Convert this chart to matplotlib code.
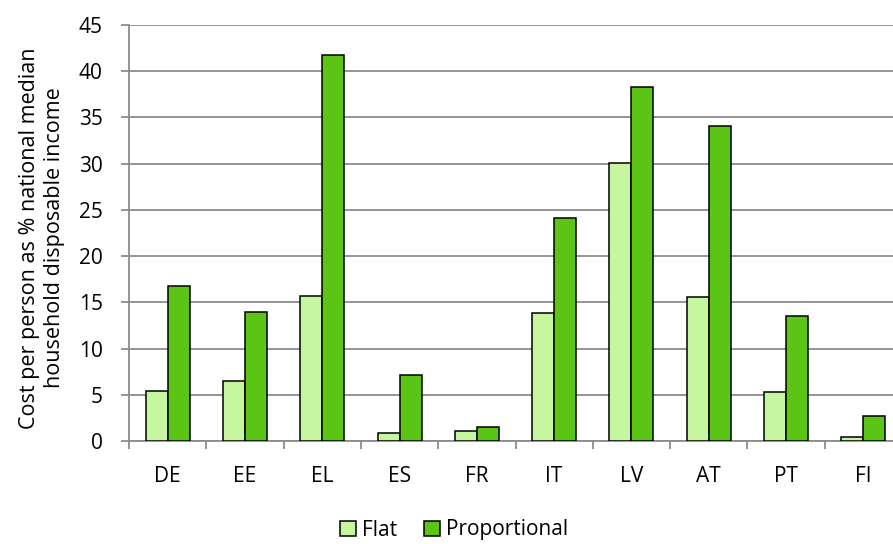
import matplotlib
matplotlib.use("Agg")
import matplotlib.pyplot as plt
import numpy as np
from matplotlib.patches import Patch

categories = ["DE", "EE", "EL", "ES", "FR", "IT", "LV", "AT", "PT", "FI"]
flat = [5.45, 6.45, 15.65, 0.85, 1.05, 13.9, 30.1, 15.6, 5.25, 0.45]
proportional = [16.75, 14.0, 41.8, 7.1, 1.55, 24.1, 38.3, 34.1, 13.5, 2.75]
yticks = [0, 5, 10, 15, 20, 25, 30, 35, 40, 45]

plt.rcParams['font.family'] = ['Open Sans', 'DejaVu Sans']
FS = 15

fig = plt.figure(figsize=(8.93, 5.44), dpi=100)
ax = fig.add_axes([129/893, 103/544, 773/893, 416/544])

x = np.arange(len(categories))
w = 0.285
c_flat = "#C6F7A0"
c_prop = "#5CC414"
ax.bar(x - w/2, flat, w, color=c_flat, edgecolor="black", linewidth=1.1, zorder=3)
ax.bar(x + w/2, proportional, w, color=c_prop, edgecolor="black", linewidth=1.1, zorder=3)

ax.set_xlim(-0.5, len(categories) - 0.5)
ax.set_ylim(0, 45)
ax.set_yticks(yticks)
ax.set_yticklabels([str(v) for v in yticks], fontsize=FS)
ax.yaxis.grid(True, color="#8C8C8C", linewidth=1.3, zorder=0)
ax.set_axisbelow(True)

ax.set_xticks(np.arange(-0.5, len(categories)), minor=False)
ax.set_xticklabels([])
ax.set_xticks(x, minor=True)
ax.set_xticklabels(categories, minor=True, fontsize=FS)
ax.tick_params(axis='x', which='minor', length=0, pad=18)
ax.tick_params(axis='x', which='major', length=6, color="#8C8C8C", width=1.3)
ax.tick_params(axis='y', length=6, color="#8C8C8C", width=1.3, pad=13)

for s in ["top", "right"]:
    ax.spines[s].set_visible(False)
for s in ["left", "bottom"]:
    ax.spines[s].set_color("#8C8C8C")
    ax.spines[s].set_linewidth(1.3)

fig.text(42/893, 1 - 238/544,
         "Cost per person as % national median\nhousehold disposable income",
         rotation=90, ha="center", va="center", multialignment="center",
         fontsize=15.5, linespacing=1.3)

handles = [Patch(facecolor=c_flat, edgecolor="black", linewidth=1.1, label="Flat"),
           Patch(facecolor=c_prop, edgecolor="black", linewidth=1.1, label="Proportional")]
fig.legend(handles=handles, loc="center", bbox_to_anchor=(454/893, 1 - 530/544),
           ncol=2, frameon=False, fontsize=FS, handlelength=0.75, handleheight=0.75,
           handletextpad=0.3, columnspacing=1.3, borderpad=0)

fig.savefig("out.png", dpi=100)
